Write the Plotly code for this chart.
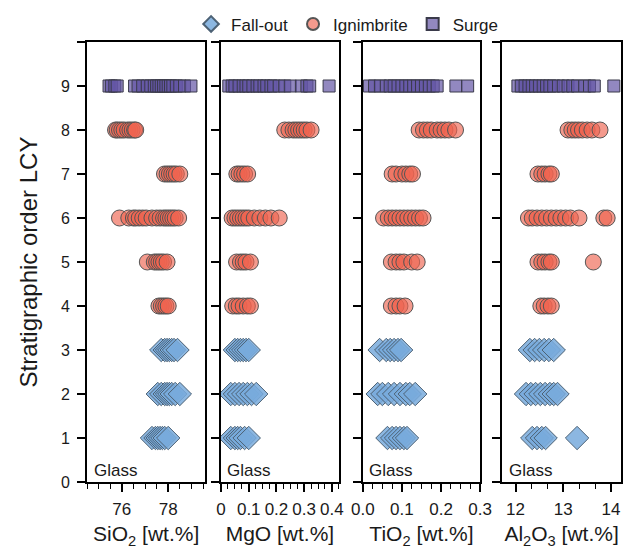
import plotly.graph_objects as go

# ---------------- data ----------------
# stratigraphic order rows -> values
SIO2_FALLOUT = {1: [77.3, 77.45, 77.55, 77.65, 77.75, 77.85, 78.0],
                2: [77.55, 77.7, 77.85, 77.95, 78.05, 78.15, 78.3, 78.5],
                3: [77.7, 77.85, 77.95, 78.05, 78.15, 78.25, 78.4]}
SIO2_IGNIMBRITE = {4: [77.6, 77.7, 77.8, 77.9, 78.0],
                   5: [77.1, 77.4, 77.5, 77.6, 77.7, 77.8, 77.95],
                   6: [75.9, 76.3, 76.5, 76.6, 76.75, 76.9, 77.05, 77.3, 77.5, 77.65,
                       77.8, 77.9, 78.0, 78.1, 78.2, 78.3, 78.45],
                   7: [77.84, 77.95, 78.05, 78.15, 78.25, 78.35, 78.5],
                   8: [75.73, 75.8, 75.9, 76.0, 76.1, 76.25, 76.35, 76.45, 76.55, 76.6]}
SIO2_SURGE = {9: [75.45, 75.55, 75.7, 75.8, 76.55, 76.7, 76.9, 77.1, 77.25, 77.4, 77.5,
                  77.6, 77.7, 77.8, 77.9, 78.0, 78.1, 78.2, 78.35, 78.5, 78.7, 78.98]}

MGO_FALLOUT = {1: [0.035, 0.05, 0.06, 0.07, 0.085, 0.1],
               2: [0.035, 0.05, 0.065, 0.08, 0.095, 0.11, 0.127],
               3: [0.05, 0.06, 0.07, 0.08, 0.09, 0.1]}
MGO_IGNIMBRITE = {4: [0.042, 0.055, 0.065, 0.08, 0.095, 0.106],
                  5: [0.056, 0.07, 0.08, 0.09, 0.106],
                  6: [0.04, 0.05, 0.06, 0.07, 0.08, 0.09, 0.1, 0.12, 0.14, 0.16, 0.18, 0.21],
                  7: [0.057, 0.065, 0.075, 0.085, 0.096],
                  8: [0.23, 0.245, 0.26, 0.27, 0.28, 0.29, 0.3, 0.31, 0.325]}
MGO_SURGE = {9: [0.028, 0.04, 0.05, 0.065, 0.08, 0.09, 0.1, 0.115, 0.13, 0.14, 0.155,
                 0.165, 0.18, 0.19, 0.21, 0.23, 0.25, 0.29, 0.31, 0.32, 0.39]}

TIO2_FALLOUT = {1: [0.063, 0.075, 0.085, 0.095, 0.105, 0.113],
                2: [0.038, 0.05, 0.065, 0.08, 0.095, 0.11, 0.12, 0.134],
                3: [0.043, 0.06, 0.07, 0.08, 0.09, 0.098]}
TIO2_IGNIMBRITE = {4: [0.073, 0.085, 0.095, 0.108],
                   5: [0.073, 0.085, 0.095, 0.105, 0.125, 0.139],
                   6: [0.053, 0.065, 0.075, 0.085, 0.095, 0.105, 0.115, 0.125, 0.135,
                       0.145, 0.154],
                   7: [0.075, 0.085, 0.1, 0.11, 0.12, 0.127],
                   8: [0.144, 0.155, 0.165, 0.175, 0.19, 0.2, 0.21, 0.22, 0.237]}
TIO2_SURGE = {9: [0.017, 0.03, 0.045, 0.06, 0.07, 0.08, 0.09, 0.1, 0.11, 0.12, 0.13,
                  0.14, 0.15, 0.16, 0.17, 0.18, 0.19, 0.238, 0.268]}

AL2O3_FALLOUT = {1: [12.35, 12.45, 12.55, 12.63, 13.29],
                 2: [12.22, 12.32, 12.42, 12.52, 12.62, 12.72, 12.8, 12.88],
                 3: [12.3, 12.4, 12.5, 12.6, 12.7, 12.8]}
AL2O3_IGNIMBRITE = {4: [12.53, 12.6, 12.68, 12.75],
                    5: [12.47, 12.55, 12.62, 12.7, 12.75, 13.63],
                    6: [12.27, 12.35, 12.45, 12.55, 12.65, 12.75, 12.85, 12.95, 13.05,
                        13.15, 13.33, 13.85, 13.92],
                    7: [12.47, 12.55, 12.62, 12.7, 12.75],
                    8: [13.1, 13.18, 13.25, 13.32, 13.4, 13.5, 13.6, 13.77]}
AL2O3_SURGE = {9: [12.05, 12.12, 12.2, 12.28, 12.35, 12.42, 12.5, 12.58, 12.65, 12.72,
                   12.8, 12.9, 13.0, 13.1, 13.2, 13.3, 13.45, 13.55, 13.65, 14.06]}

PANEL_TITLES = ["SiO<sub>2</sub> [wt.%]", "MgO [wt.%]", "TiO<sub>2</sub> [wt.%]",
                "Al<sub>2</sub>O<sub>3</sub> [wt.%]"]
Y_TICKS = list(range(0, 11))
Y_TICKTEXT = [str(v) for v in range(0, 10)] + [""]

# ---------------- styling ----------------
FONT = "Liberation Sans, Arial, sans-serif"
STYLES = {
    "Fall-out": dict(symbol="diamond", size=18, color="rgba(120,170,220,0.85)",
                     line=dict(color="#4d6275", width=1)),
    "Ignimbrite": dict(symbol="circle", size=16, color="rgba(238,100,80,0.65)",
                       line=dict(color="#555555", width=1)),
    "Surge": dict(symbol="square", size=12, color="rgba(100,85,165,0.7)",
                  line=dict(color="#3a3a4a", width=1)),
}

panels = [
    (SIO2_FALLOUT, SIO2_IGNIMBRITE, SIO2_SURGE),
    (MGO_FALLOUT, MGO_IGNIMBRITE, MGO_SURGE),
    (TIO2_FALLOUT, TIO2_IGNIMBRITE, TIO2_SURGE),
    (AL2O3_FALLOUT, AL2O3_IGNIMBRITE, AL2O3_SURGE),
]

W, H = 639, 549
ML, MR, MT, MB = 87, 6, 38, 67
PW = W - ML - MR
px = lambda a, b: [(a - ML) / PW, (b - ML) / PW]
domains = [px(87, 208), px(223.5, 345), px(369, 489), px(511.5, 633)]
ranges = [[74.5, 79.6], [-0.002, 0.427], [0.0, 0.3], [11.72, 14.21]]
major = [dict(tickvals=[76, 78], ticktext=["76", "78"]),
         dict(tickvals=[0, 0.1, 0.2, 0.3, 0.4], ticktext=["0", "0.1", "0.2", "0.3", "0.4"]),
         dict(tickvals=[0, 0.1, 0.2, 0.3], ticktext=["0.0", "0.1", "0.2", "0.3"]),
         dict(tickvals=[12, 13, 14], ticktext=["12", "13", "14"])]
minor_dt = [0.5, 0.025, 0.025, 1 / 3]
minor_t0 = [74.5, 0, 0, 12]

fig = go.Figure()
names = ["Fall-out", "Ignimbrite", "Surge"]
for i, group in enumerate(panels):
    xa = "x" if i == 0 else f"x{i+1}"
    ya = "y" if i == 0 else f"y{i+1}"
    # draw surge first, then ignimbrite, then fall-out
    for k in [2, 1, 0]:
        data = group[k]
        xs, ys = [], []
        for row, vals in data.items():
            xs += vals
            ys += [row] * len(vals)
        fig.add_trace(go.Scatter(
            x=xs, y=ys, mode="markers", xaxis=xa, yaxis=ya,
            name=names[k], legendrank=k + 1, showlegend=(i == 0),
            marker=STYLES[names[k]],
        ))

layout = dict(
    width=W, height=H, margin=dict(l=ML, r=MR, t=MT, b=MB),
    plot_bgcolor="white", paper_bgcolor="white",
    font=dict(family=FONT, size=16, color="#1a1a1a"),
    legend=dict(orientation="h", x=0.487, xanchor="center", y=1.04, yanchor="middle",
                font=dict(size=17), itemsizing="constant", bgcolor="rgba(0,0,0,0)",
                traceorder="normal", itemwidth=30),
    showlegend=True,
)
for i in range(4):
    xk = "xaxis" if i == 0 else f"xaxis{i+1}"
    yk = "yaxis" if i == 0 else f"yaxis{i+1}"
    layout[xk] = dict(
        domain=domains[i], range=ranges[i], anchor="y" if i == 0 else f"y{i+1}",
        showline=True, linecolor="black", linewidth=2, mirror=True,
        ticks="outside", ticklen=8, tickwidth=1.5, tickcolor="black",
        showgrid=False, zeroline=False, tickmode="array", **major[i],
        tickfont=dict(size=17), ticklabelstandoff=3,
        minor=dict(tick0=minor_t0[i], dtick=minor_dt[i], ticks="outside", ticklen=5,
                   tickwidth=1.2, tickcolor="black", showgrid=False),
        title=dict(text=PANEL_TITLES[i], font=dict(size=21), standoff=8),
    )
    layout[yk] = dict(
        domain=[0, 1], range=[0, 10], anchor="x" if i == 0 else f"x{i+1}",
        showline=True, linecolor="black", linewidth=2, mirror=True,
        ticks="outside", ticklen=8, tickwidth=1.5, tickcolor="black",
        showgrid=False, zeroline=False, tickmode="array",
        tickvals=Y_TICKS, ticktext=Y_TICKTEXT, showticklabels=(i == 0),
        tickfont=dict(size=16), ticklabelstandoff=4,
    )
    if i == 0:
        layout[yk]["title"] = dict(text="Stratigraphic order LCY", font=dict(size=24),
                                   standoff=16)
fig.update_layout(**layout)

for i in range(4):
    xr = "x" if i == 0 else f"x{i+1}"
    yr = "y" if i == 0 else f"y{i+1}"
    fig.add_annotation(text="Glass", xref=f"{xr} domain", yref=f"{yr} domain",
                       x=0.04, y=0.0, xanchor="left", yanchor="bottom",
                       showarrow=False, font=dict(size=17))

fig.write_html("out.html")
